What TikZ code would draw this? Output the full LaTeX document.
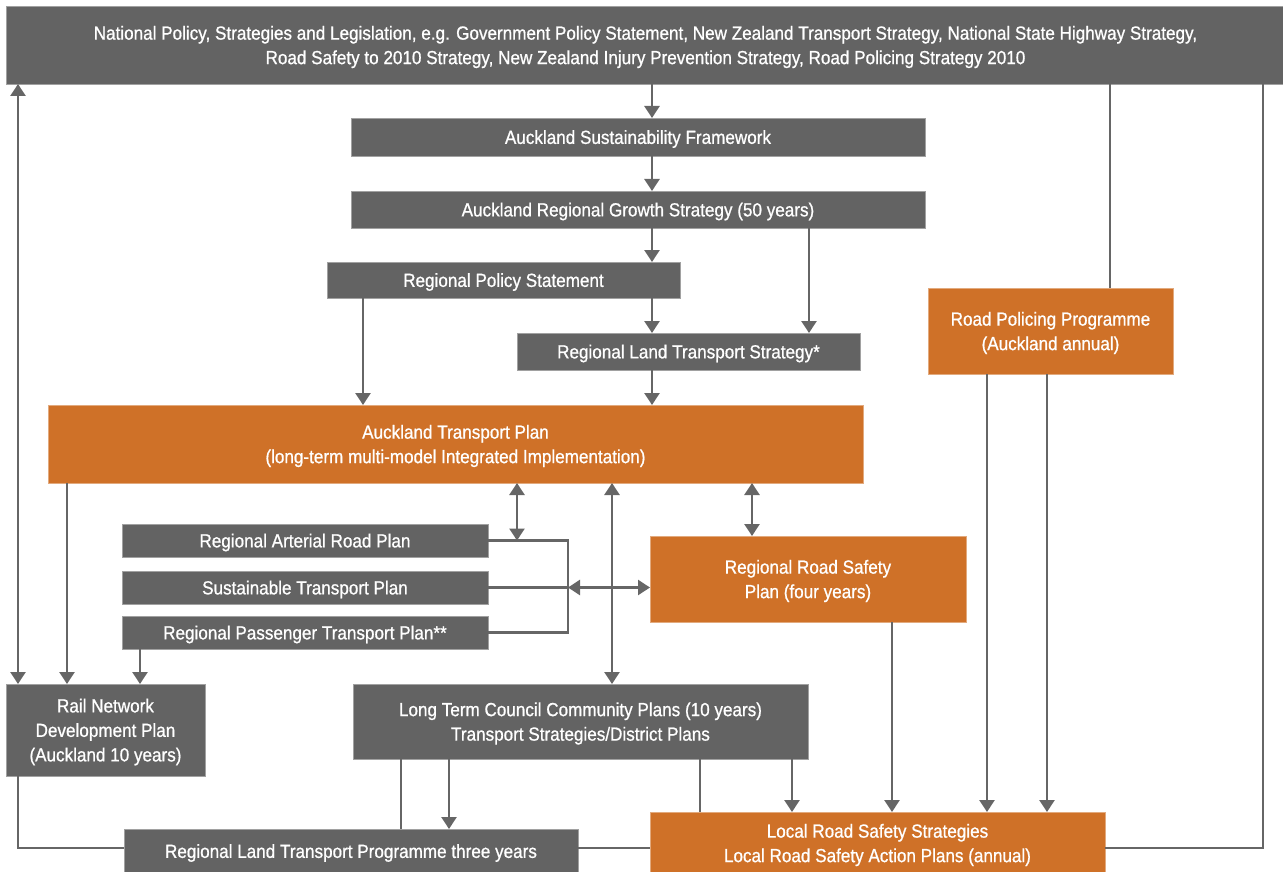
\documentclass[tikz,border=0pt]{standalone}
\usepackage{fontspec}
\setmainfont{Liberation Sans}[FakeStretch=0.90,FakeBold=0.8]
\usetikzlibrary{arrows.meta}
\definecolor{boxgray}{HTML}{636363}
\definecolor{boxorange}{HTML}{CF7128}
\definecolor{linegray}{HTML}{666666}
\begin{document}
\begin{tikzpicture}[x=1pt,y=-1pt,
  box/.style={rectangle, fill=boxgray, draw=boxgray!60!white, line width=0.8pt, text=white, anchor=north west,
    inner sep=0pt, outer sep=0pt, align=center, text depth=-1pt, font=\fontsize{19}{24.5}\selectfont},
  obox/.style={box, fill=boxorange, draw=boxorange!60!white},
  conn/.style={draw=linegray, line width=2.5pt},
  arr/.style={conn, -{Triangle[width=15pt,length=12pt]}},
  darr/.style={conn, {Triangle[width=15pt,length=12pt]}-{Triangle[width=15pt,length=12pt]}},
]
\useasboundingbox (0,0) rectangle (1283,872);
% nodes
\node[box, minimum width=1279pt, minimum height=78pt] (top) at (6,6)
  {National Policy, Strategies and Legislation, e.g. Government Policy Statement, New Zealand Transport Strategy, National State Highway Strategy,\\Road Safety to 2010 Strategy, New Zealand Injury Prevention Strategy, Road Policing Strategy 2010};
\node[box, minimum width=574pt, minimum height=38pt] (asf) at (351,118) {Auckland Sustainability Framework};
\node[box, minimum width=574pt, minimum height=37pt] (args) at (351,191) {Auckland Regional Growth Strategy (50 years)};
\node[box, minimum width=353pt, minimum height=36pt] (rps) at (327,262) {Regional Policy Statement};
\node[box, minimum width=343pt, minimum height=37pt] (rlts) at (517,333) {Regional Land Transport Strategy*};
\node[obox, minimum width=815pt, minimum height=78pt] (atp) at (48,405) {Auckland Transport Plan\\(long-term multi-model Integrated Implementation)};
\node[obox, minimum width=245pt, minimum height=86pt] (rpp) at (928,288) {Road Policing Programme\\(Auckland annual)};
\node[box, minimum width=366pt, minimum height=33pt] (rarp) at (122,524) {Regional Arterial Road Plan};
\node[box, minimum width=366pt, minimum height=33pt] (stp) at (122,571) {Sustainable Transport Plan};
\node[box, minimum width=366pt, minimum height=33pt] (rptp) at (122,616) {Regional Passenger Transport Plan**};
\node[obox, minimum width=316pt, minimum height=86pt] (rrsp) at (650,536) {Regional Road Safety\\Plan (four years)};
\node[box, minimum width=199pt, minimum height=92pt] (rndp) at (6,684) {Rail Network\\Development Plan\\(Auckland 10 years)};
\node[box, minimum width=455pt, minimum height=75pt] (ltccp) at (353,684) {Long Term Council Community Plans (10 years)\\Transport Strategies/District Plans};
\node[box, minimum width=454pt, minimum height=44pt] (rltp) at (124,829) {Regional Land Transport Programme three years};
\node[obox, minimum width=455pt, minimum height=62pt] (lrss) at (650,812) {Local Road Safety Strategies\\Local Road Safety Action Plans (annual)};
% helper coordinates
\coordinate (xA) at (652,0);
\coordinate (xB) at (809,0);
\coordinate (xC) at (363,0);
\coordinate (xD) at (1110,0);
\coordinate (xE) at (1263,0);
\coordinate (xF) at (18,0);
\coordinate (xG) at (67,0);
\coordinate (xH) at (140,0);
\coordinate (xI) at (517,0);
\coordinate (xJ) at (568,0);
\coordinate (xK) at (612,0);
\coordinate (xL) at (752,0);
\coordinate (xM) at (892,0);
\coordinate (xN) at (987,0);
\coordinate (xO) at (1047,0);
\coordinate (xP) at (792,0);
\coordinate (xQ) at (700,0);
\coordinate (xR) at (449,0);
\coordinate (xS) at (401,0);
\coordinate (yB) at (0,848);
% connectors
\draw[arr] (top.south -| xA) -- (asf.north -| xA);
\draw[arr] (asf.south -| xA) -- (args.north -| xA);
\draw[arr] (args.south -| xA) -- (rps.north -| xA);
\draw[arr] (args.south -| xB) -- (rlts.north -| xB);
\draw[arr] (rps.south -| xA) -- (rlts.north -| xA);
\draw[arr] (rps.south -| xC) -- (atp.north -| xC);
\draw[arr] (rlts.south -| xA) -- (atp.north -| xA);
\draw[conn] (top.south -| xD) -- (rpp.north -| xD);
\draw[conn] (top.south -| xE) -- (xE |- yB) -- (lrss.east |- yB);
\draw[darr] (top.south -| xF) -- (rndp.north -| xF);
\draw[arr] (atp.south -| xG) -- (rndp.north -| xG);
\draw[arr] (rptp.south -| xH) -- (rndp.north -| xH);
\draw[conn] (rarp.east) -- (rarp.east -| xJ) -- (rptp.east -| xJ) -- (rptp.east);
\draw[conn] (stp.east) -- (stp.east -| xJ);
\draw[darr] (atp.south -| xI) -- (rarp.east -| xI);
\draw[darr] (stp.east -| xJ) -- (rrsp.west |- stp.east);
\draw[darr] (atp.south -| xK) -- (ltccp.north -| xK);
\draw[darr] (atp.south -| xL) -- (rrsp.north -| xL);
\draw[arr] (rrsp.south -| xM) -- (lrss.north -| xM);
\draw[arr] (rpp.south -| xN) -- (lrss.north -| xN);
\draw[arr] (rpp.south -| xO) -- (lrss.north -| xO);
\draw[arr] (ltccp.south -| xP) -- (lrss.north -| xP);
\draw[conn] (ltccp.south -| xQ) -- (lrss.north -| xQ);
\draw[arr] (ltccp.south -| xR) -- (rltp.north -| xR);
\draw[conn] (ltccp.south -| xS) -- (rltp.north -| xS);
\draw[conn] (rndp.south -| xF) -- (xF |- yB) -- (rltp.west |- yB);
\draw[conn] (rltp.east |- yB) -- (lrss.west |- yB);
\end{tikzpicture}
\end{document}
